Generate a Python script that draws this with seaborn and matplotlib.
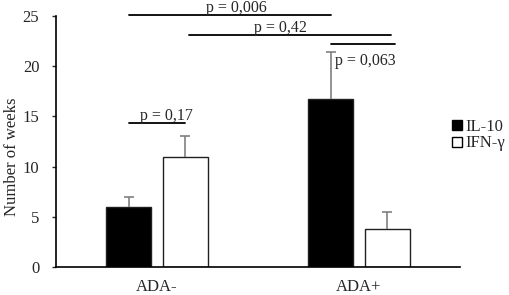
import numpy as np
import pandas as pd
import matplotlib
matplotlib.use("Agg")
import matplotlib.pyplot as plt
from matplotlib.lines import Line2D
import seaborn as sns

# données
groups = ["ADA-", "ADA+"]
markers = ["IL-10", "IFN-γ"]
il10_weeks = [6.0, 16.7]
ifng_weeks = [11.0, 3.8]
il10_err = [1.0, 4.7]
ifng_err = [2.0, 1.7]
y_ticks = [0, 5, 10, 15, 20, 25]

# p-values et hauteur des traits
p_labels = ["0,006", "0,42", "0,063", "0,17"]
p_heights = [25.1, 23.1, 22.2, 14.3]

df = pd.DataFrame({
    "group": groups * 2,
    "marker": [markers[0]] * 2 + [markers[1]] * 2,
    "weeks": il10_weeks + ifng_weeks,
    "err": il10_err + ifng_err,
})

sns.set_style("white")
plt.rcParams["font.family"] = ["Liberation Serif", "DejaVu Serif"]

fig = plt.figure(figsize=(5.1, 2.95), dpi=100)
ax = fig.add_axes([56 / 510, 28 / 295, 404 / 510, 251 / 295])

sns.barplot(data=df, x="group", y="weeks", hue="marker", order=groups,
            hue_order=markers, palette=["black", "white"], width=0.56, gap=0.2,
            edgecolor="#202020", linewidth=1.0, errorbar=None, legend=False, ax=ax)

# barres d'erreur (haut seulement)
centers = {}
for patch, (_, row) in zip(ax.patches, df.iterrows()):
    cx = patch.get_x() + patch.get_width() / 2
    centers[(row["group"], row["marker"])] = cx
    top = row["weeks"] + row["err"]
    ax.vlines(cx, row["weeks"], top, color="#808080", lw=1.2, zorder=1)
    ax.plot([cx], [top], marker="_", markersize=7, mew=1.2, color="#808080", zorder=1)

a_il, a_if = centers[("ADA-", "IL-10")], centers[("ADA-", "IFN-γ")]
b_il, b_if = centers[("ADA+", "IL-10")], centers[("ADA+", "IFN-γ")]

def bracket(x0, x1, y, label, tx=None, ty=None, va="bottom", ha="center"):
    ax.plot([x0, x1], [y, y], color="black", lw=1.3, clip_on=False)
    if tx is None:
        tx = (x0 + x1) / 2
    if ty is None:
        ty = y - 0.1
    ax.text(tx, ty, "p = " + label, ha=ha, va=va, fontsize=11.5)

bracket(a_il, b_il, p_heights[0], p_labels[0], tx=(a_il + b_il) / 2 + 0.035)
bracket(a_if + 0.02, b_if + 0.02, p_heights[1], p_labels[1], tx=(a_if + b_if) / 2 - 0.03)
bracket(b_il, b_if + 0.04, p_heights[2], p_labels[2], tx=b_il + 0.02, ty=20.5, va="center", ha="left")
bracket(a_il, a_if, p_heights[3], p_labels[3], tx=(a_il + a_if) / 2 + 0.045)

ax.set_xlim(-0.5, 1.5)
ax.set_ylim(0, 25)
ax.set_yticks(y_ticks)
ax.set_xlabel("")
ax.set_ylabel("Number of weeks", fontsize=12, va="center")
ax.yaxis.set_label_coords(-44 / 404, 110 / 251)
ax.tick_params(axis="y", left=True, length=3, width=1, direction="out", labelsize=12, pad=9)
ax.tick_params(axis="x", bottom=False, labelsize=12, pad=5)
sns.despine(ax=ax)
for s in ["left", "bottom"]:
    ax.spines[s].set_color("black")
    ax.spines[s].set_linewidth(1.2)

handles = [Line2D([], [], marker="s", ls="", markerfacecolor=c, markeredgecolor="black",
                  markersize=7) for c in ["black", "white"]]
fig.legend(handles, markers, loc="upper left", bbox_to_anchor=(449 / 510, 1 - 119 / 295),
           frameon=False, fontsize=12, handletextpad=0.0, handlelength=1.0,
           labelspacing=0.02, borderaxespad=0, borderpad=0)

fig.savefig("out.png", dpi=100)
